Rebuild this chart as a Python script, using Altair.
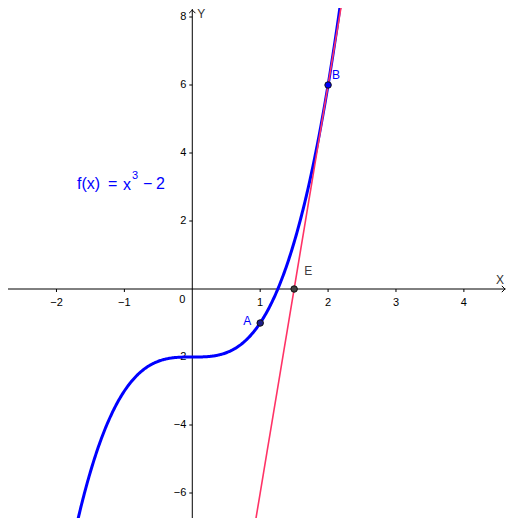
import altair as alt
import pandas as pd

# ---- data ----
x_ticks = [-2, -1, 1, 2, 3, 4]
y_ticks = [-6, -4, -2, 2, 4, 6, 8]

point_names = ["A", "B", "E"]
point_x = [1, 2, 1.5]
point_y = [-1, 6, 0]
point_fill = ["#1c1c8c", "#0000ff", "#404040"]
label_color = ["#0000ff", "#0000ff", "#404040"]
label_dx = [-13, 8, 14]
label_dy = [-2, -10, -18]

curve_range = [-1.8, 2.3]          # f(x) = x^3 - 2
tangent_range = [0.85, 2.3]        # tangent at B: y = 12x - 18
tangent_slope = 12
tangent_intercept = -18

formula_parts = ["f(x)", "=", "x", "3", "\u2212", "2"]

X_DOMAIN = [-2.714, 4.635]
Y_DOMAIN = [-6.735, 8.265]
W, H = 499, 510
FONT = "Liberation Sans"

xs = alt.Scale(domain=X_DOMAIN, nice=False, zero=False)
ys = alt.Scale(domain=Y_DOMAIN, nice=False, zero=False)


def X(f="x"):
    return alt.X(f"{f}:Q", scale=xs, axis=None)


def Y(f="y"):
    return alt.Y(f"{f}:Q", scale=ys, axis=None)


# axes lines
axes_df = pd.DataFrame({
    "x": [X_DOMAIN[0], 0], "x2": [X_DOMAIN[1] - 0.02, 0],
    "y": [0, Y_DOMAIN[0]], "y2": [0, Y_DOMAIN[1] - 0.03],
})
axes = alt.Chart(axes_df).mark_rule(color="black", strokeWidth=1).encode(
    x=X(), x2="x2:Q", y=Y(), y2="y2:Q"
)

arrow_df = pd.DataFrame({"x": [X_DOMAIN[1] - 0.03], "y": [0]})
arrow_x = alt.Chart(arrow_df).mark_point(
    shape="M-1,-1L0,0L-1,1", filled=False, color="black", size=40, strokeWidth=1, opacity=1
).encode(x=X(), y=Y())
arrow_df2 = pd.DataFrame({"x": [0], "y": [Y_DOMAIN[1] - 0.06]})
arrow_y = alt.Chart(arrow_df2).mark_point(
    shape="M-1,1L0,0L1,1", filled=False, color="black", size=40, strokeWidth=1, opacity=1
).encode(x=X(), y=Y())

def fmt(v):
    return str(v) if v >= 0 else "\u2212" + str(-v)

xt_df = pd.DataFrame({"x": x_ticks, "y": [0] * len(x_ticks), "t": [fmt(v) for v in x_ticks]})
yt_df = pd.DataFrame({"x": [0] * len(y_ticks), "y": y_ticks, "t": [fmt(v) for v in y_ticks]})

xtick_marks = alt.Chart(xt_df).mark_point(
    shape="M0,0L0,1", filled=False, color="black", size=36, strokeWidth=1, opacity=1
).encode(x=X(), y=Y())
ytick_marks = alt.Chart(yt_df).mark_point(
    shape="M0,0L-1,0", filled=False, color="black", size=36, strokeWidth=1, opacity=1
).encode(x=X(), y=Y())

xtick_labels = alt.Chart(xt_df).mark_text(
    font=FONT, fontSize=11, color="black", dy=14, baseline="middle", align="center"
).encode(x=X(), y=Y(), text="t:N")
ytick_labels = alt.Chart(yt_df).mark_text(
    font=FONT, fontSize=11, color="black", dx=-6, baseline="middle", align="right"
).encode(x=X(), y=Y(), text="t:N")
origin_label = alt.Chart(pd.DataFrame({"x": [0], "y": [0], "t": ["0"]})).mark_text(
    font=FONT, fontSize=11, color="black", dx=-10, dy=11, baseline="middle", align="center"
).encode(x=X(), y=Y(), text="t:N")

xname = alt.Chart(pd.DataFrame({"x": [X_DOMAIN[1]], "y": [0], "t": ["X"]})).mark_text(
    font=FONT, fontSize=12, color="#333333", dx=-7, dy=-9, baseline="middle", align="center"
).encode(x=X(), y=Y(), text="t:N")
yname = alt.Chart(pd.DataFrame({"x": [0], "y": [Y_DOMAIN[1]], "t": ["Y"]})).mark_text(
    font=FONT, fontSize=12, color="#333333", dx=9, dy=6, baseline="middle", align="center"
).encode(x=X(), y=Y(), text="t:N")

# curve f(x) = x^3 - 2
curve = alt.Chart(alt.sequence(curve_range[0], curve_range[1], 0.01, as_="x")).transform_calculate(
    y="pow(datum.x, 3) - 2"
).mark_line(color="#0000ff", strokeWidth=3, clip=True).encode(x=X(), y=Y())

tangent = alt.Chart(alt.sequence(tangent_range[0], tangent_range[1], 0.05, as_="x")).transform_calculate(
    y=f"{tangent_slope} * datum.x + ({tangent_intercept})"
).mark_line(color="#ff3366", strokeWidth=1.6, clip=True).encode(x=X(), y=Y())

pts_df = pd.DataFrame({"x": point_x, "y": point_y, "name": point_names, "fill": point_fill})
points = alt.Chart(pts_df).mark_point(
    filled=True, size=42, stroke="#111111", strokeWidth=1, opacity=1
).encode(x=X(), y=Y(), fill=alt.Fill("fill:N", scale=None))

labels = alt.layer(*[
    alt.Chart(pts_df.iloc[[i]]).mark_text(
        font=FONT, fontSize=12, dx=label_dx[i], dy=label_dy[i], baseline="middle", align="center",
        color=label_color[i]
    ).encode(x=X(), y=Y(), text="name:N")
    for i in range(len(point_names))
])

# formula pieces: (left px, centre y px, font size) in chart coordinates
formula_layout = [(69, 176, 16), (100, 176, 16), (115, 177, 16), (124, 168, 11), (135, 176, 16), (148, 176, 16)]
formula = alt.layer(*[
    alt.Chart(pd.DataFrame({"t": [formula_parts[i]]})).mark_text(
        font=FONT, fontSize=fs, color="#0000ff", align="left", baseline="middle"
    ).encode(x=alt.value(px), y=alt.value(py), text="t:N")
    for i, (px, py, fs) in enumerate(formula_layout)
])

chart = alt.layer(
    axes, arrow_x, arrow_y, xtick_marks, ytick_marks, xtick_labels, ytick_labels, origin_label,
    xname, yname, formula, curve, tangent, points, labels
).properties(
    width=W, height=H, padding=0, autosize=alt.AutoSizeParams(type="none")
).configure_view(stroke=None)

chart.save("out.html", embed_options={"renderer": "svg", "actions": False})
